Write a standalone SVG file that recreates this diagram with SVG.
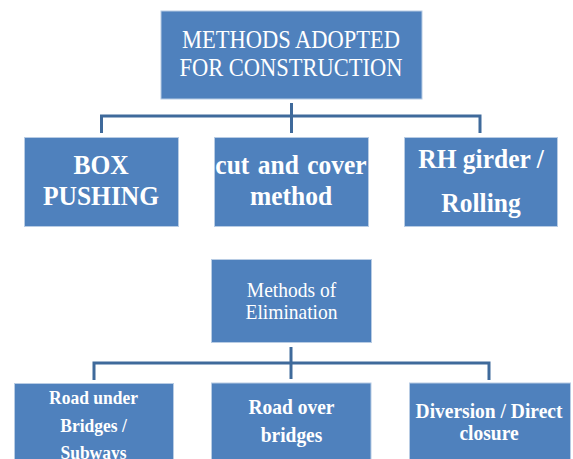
<svg xmlns="http://www.w3.org/2000/svg" width="573" height="459" viewBox="0 0 573 459">
<style>
.box{fill:#4f81bd;stroke:#b8cce4;stroke-width:1}
.conn{fill:none;stroke:#3f6a9b;stroke-width:3;stroke-linejoin:miter;stroke-linecap:butt}
.t{font-family:"Liberation Serif","Times New Roman",serif;fill:#ffffff;text-anchor:middle}
.r{font-weight:normal}
.b{font-weight:bold}
</style>
<rect width="573" height="459" fill="#ffffff"/>
<g id="connectors">
<polyline class="conn" points="101.5,133 101.5,116 480,116 480,133"/>
<line class="conn" x1="291.5" y1="103" x2="291.5" y2="133"/>
<polyline class="conn" points="94,380 94,363 489,363 489,380"/>
<line class="conn" x1="291" y1="347" x2="291" y2="379"/>
</g>
<g id="n-methods-adopted">
<rect class="box" x="161" y="11" width="261" height="88"/>
<text class="t r" font-size="22.5" transform="translate(291 48) scale(1 1.1)">METHODS ADOPTED</text>
<text class="t r" font-size="22.5" transform="translate(291 76) scale(1 1.1)">FOR CONSTRUCTION</text>
</g>
<g id="n-box-pushing">
<rect class="box" x="24.5" y="137.5" width="154" height="89"/>
<text class="t b" font-size="25.5" transform="translate(101 174) scale(1 1.1)">BOX</text>
<text class="t b" font-size="25.5" transform="translate(101 205) scale(1 1.1)">PUSHING</text>
</g>
<g id="n-cut-cover">
<rect class="box" x="214.5" y="137.5" width="154" height="89"/>
<text class="t b" font-size="25.5" word-spacing="2" transform="translate(291 174) scale(1 1.1)">cut and cover</text>
<text class="t b" font-size="25.5" transform="translate(291 205) scale(1 1.1)">method</text>
</g>
<g id="n-rh-girder">
<rect class="box" x="404.5" y="137.5" width="153" height="89"/>
<text class="t b" font-size="25.5" transform="translate(481 168) scale(1 1.1)">RH girder /</text>
<text class="t b" font-size="25.5" transform="translate(481 212) scale(1 1.1)">Rolling</text>
</g>
<g id="n-elimination">
<rect class="box" x="211.5" y="259.5" width="160" height="83"/>
<text class="t r" font-size="19.5" transform="translate(291.5 297) scale(1 1.1)">Methods of</text>
<text class="t r" font-size="19.5" transform="translate(291.5 318.5) scale(1 1.1)">Elimination</text>
</g>
<g id="n-rub">
<rect class="box" x="14.5" y="383.5" width="159" height="90"/>
<text class="t b" font-size="17.5" transform="translate(93.5 403.5) scale(1 1.1)">Road under</text>
<text class="t b" font-size="17.5" transform="translate(93.5 431.5) scale(1 1.1)">Bridges /</text>
<text class="t b" font-size="17.5" transform="translate(93.5 458.5) scale(1 1.1)">Subways</text>
</g>
<g id="n-rob">
<rect class="box" x="211.5" y="383" width="159.5" height="90"/>
<text class="t b" font-size="19.5" transform="translate(291.5 414) scale(1 1.1)">Road over</text>
<text class="t b" font-size="19.5" transform="translate(291.5 441.5) scale(1 1.1)">bridges</text>
</g>
<g id="n-diversion">
<rect class="box" x="409.5" y="383" width="161" height="90"/>
<text class="t b" font-size="19.5" transform="translate(489 417.5) scale(1 1.05)">Diversion / Direct</text>
<text class="t b" font-size="19.5" transform="translate(489 440) scale(1 1.05)">closure</text>
</g>
</svg>
